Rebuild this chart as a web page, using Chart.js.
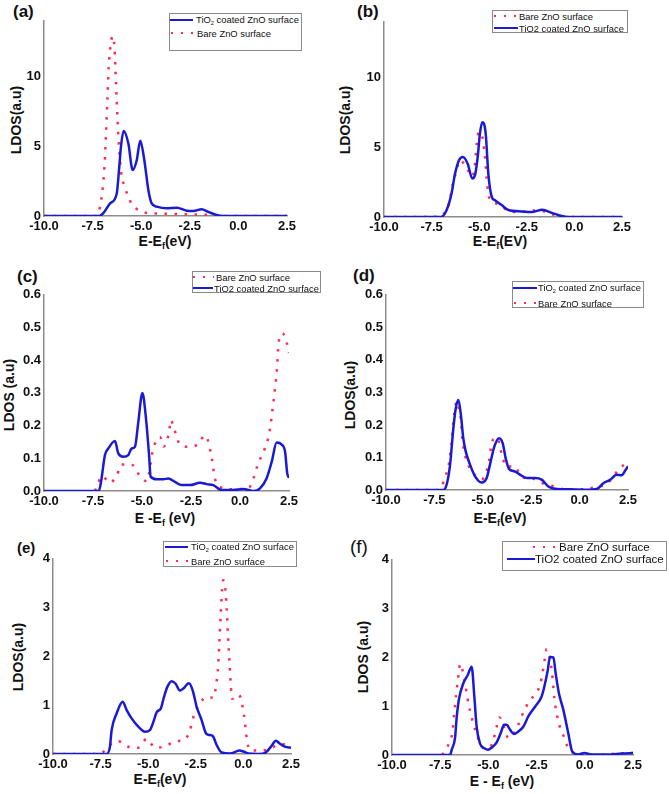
<!DOCTYPE html>
<html>
<head>
<meta charset="utf-8">
<script src="https://cdn.jsdelivr.net/npm/chart.js@4.4.1/dist/chart.umd.min.js"></script>
<style>
  body { margin: 0; width: 669px; height: 794px; position: relative; background: #fff; overflow: hidden;
         font-family: "Liberation Sans", Arial, sans-serif; color: #111; }
  .tag { position: absolute; font-weight: bold; font-size: 17px; }
  .xt, .yt { position: absolute; font-weight: bold; font-size: 14px; white-space: nowrap; }
  .xt { transform: translate(-50%, -50%); }
  .yt { transform: translate(-50%, -50%) rotate(-90deg); }
  .xt sub, .yt sub { font-size: 9px; }
  .legend { position: absolute; border: 1px solid #8a8a8a; background: #fff; box-sizing: border-box; }
  .sample { position: absolute; height: 2.5px; }
  .sample.line { background: #1a1ad6; }
  .sample.dots { background: repeating-linear-gradient(90deg, #ff2a55 0 2.5px, transparent 2.5px 10px); }
  .ltext { position: absolute; white-space: nowrap; transform: translateY(-50%); color: #111; }
  .ltext sub { font-size: 0.6em; }
</style>
</head>
<body>

<div class="tag" style="left:13px;top:2px">(a)</div>
<div class="tag" style="left:357px;top:2px">(b)</div>
<div class="tag" style="left:17px;top:267px">(c)</div>
<div class="tag" style="left:353px;top:266px">(d)</div>
<div class="tag" style="left:17px;top:539px;font-size:15px">(e)</div>
<div class="tag" style="left:350px;top:536px;font-weight:normal;font-size:19px">(f)</div>

<div class="xt" style="left:165px;top:242px">E-E<sub>f</sub>(eV)</div>
<div class="xt" style="left:500px;top:242px">E-E<sub>f</sub>(EV)</div>
<div class="xt" style="left:165px;top:519px">E -E<sub>f</sub> (eV)</div>
<div class="xt" style="left:500px;top:519px">E-E<sub>f</sub>(eV)</div>
<div class="xt" style="left:160px;top:780px">E-E<sub>f</sub>(eV)</div>
<div class="xt" style="left:502px;top:782px">E - E<sub>f</sub> (eV)</div>

<div class="yt" style="left:16px;top:120px">LDOS(a.u)</div>
<div class="yt" style="left:345px;top:120px">LDOS(a.u)</div>
<div class="yt" style="left:9px;top:395px">LDOS (a.u)</div>
<div class="yt" style="left:350px;top:395px">LDOS(a.u)</div>
<div class="yt" style="left:18px;top:657px">LDOS(a.u)</div>
<div class="yt" style="left:363px;top:657px">LDOS (a.u)</div>

<script>
// LDOS curves, [E - Ef (eV), LDOS (a.u)]
const aTiO2 = [[-10,0],[-7.15,0],[-6.95,0.2],[-6.6,0.9],[-6.26,1.6],[-6.13,3.5],[-6.04,5.0],[-5.9,6.1],[-5.66,5.2],[-5.44,3.3],[-5.23,4.0],[-5.05,5.4],[-4.86,4.2],[-4.63,1.85],[-4.46,0.9],[-4.2,0.67],[-3.69,0.55],[-3.17,0.6],[-2.66,0.38],[-2.32,0.36],[-1.89,0.48],[-1.55,0.3],[-1.12,0.07],[-0.78,0],[2.5,0]]
const aBare = [[-10,0],[-7.3,0],[-7.19,0.3],[-7.07,1.0],[-6.95,2.45],[-6.88,3.76],[-6.81,5.9],[-6.74,8.3],[-6.67,10.7],[-6.57,12.3],[-6.47,12.9],[-6.38,12.2],[-6.33,10.7],[-6.26,8.3],[-6.18,5.9],[-6.09,4.0],[-6.0,2.8],[-5.9,2.3],[-5.49,0.86],[-5.06,0.38],[-4.55,0.19],[-4.05,0.17],[-3.0,0.14],[-2.0,0.1],[-1.3,0.07],[-1.0,0.02],[-0.8,0],[2.5,0]]

const bBare = [[-10,0],[-7.1,0.02],[-6.71,0.55],[-6.53,1.26],[-6.45,2.0],[-6.32,2.7],[-6.18,3.4],[-6.03,4.07],[-5.71,3.67],[-5.36,2.9],[-5.22,3.83],[-5.13,5.26],[-5.05,6.0],[-4.95,6.1],[-4.87,5.98],[-4.75,4.95],[-4.69,4.24],[-4.61,2.76],[-4.48,1.4],[-4.0,0.93],[-3.47,0.45],[-2.95,0.36],[-1.9,0.48],[-1.19,0.2],[-0.67,0.02],[-0.4,0],[2.5,0]]
const bTiO2 = [[-10,0],[-7.0,0],[-6.71,0.5],[-6.45,1.7],[-6.27,3.1],[-6.06,4.07],[-5.85,4.3],[-5.6,3.8],[-5.36,2.76],[-5.22,3.0],[-5.08,4.3],[-4.96,6.0],[-4.84,6.8],[-4.66,6.0],[-4.52,3.1],[-4.34,1.45],[-4.17,1.2],[-3.82,0.86],[-3.47,0.5],[-2.77,0.4],[-2.24,0.36],[-1.68,0.52],[-1.19,0.3],[-0.67,0.07],[-0.3,0],[2.5,0]]

const cBare = [[-7.4,0],[-7.26,0.022],[-7.03,0.046],[-6.63,0.025],[-6.26,0.052],[-6.05,0.081],[-5.74,0.081],[-5.44,0.078],[-5.19,0.053],[-4.76,0.03],[-4.56,0.084],[-4.48,0.115],[-4.34,0.145],[-4.08,0.165],[-3.9,0.136],[-3.71,0.158],[-3.6,0.188],[-3.54,0.217],[-3.4,0.2],[-3.27,0.173],[-3.06,0.142],[-2.58,0.135],[-2.07,0.147],[-1.82,0.17],[-1.65,0.157],[-1.53,0.128],[-1.43,0.097],[-1.36,0.067],[-1.27,0.036],[-0.98,0.011],[-0.46,0.005],[-0.03,0.006],[0.47,0.011],[0.71,0.042],[0.85,0.071],[1.07,0.104],[1.28,0.132],[1.44,0.162],[1.53,0.19],[1.66,0.25],[1.78,0.31],[1.88,0.37],[1.95,0.435],[2.0,0.465],[2.17,0.482],[2.39,0.452],[2.5,0.422]]
const cTiO2 = [[-10,0],[-7.2,0],[-7.09,0.028],[-6.89,0.11],[-6.72,0.13],[-6.38,0.153],[-6.21,0.115],[-5.95,0.105],[-5.7,0.11],[-5.53,0.13],[-5.36,0.135],[-5.19,0.21],[-4.98,0.30],[-4.81,0.23],[-4.64,0.11],[-4.56,0.044],[-4.25,0.036],[-3.9,0.036],[-3.66,0.038],[-3.32,0.028],[-2.98,0.018],[-2.55,0.018],[-2.04,0.025],[-1.7,0.021],[-1.36,0.018],[-0.94,0.003],[-0.35,0.003],[0.17,0.006],[0.68,0],[1.02,0.008],[1.36,0.039],[1.62,0.09],[1.87,0.148],[2.13,0.142],[2.3,0.12],[2.41,0.054],[2.5,0.04]]

const dTiO2 = [[-10,0],[-7.04,0],[-6.87,0.016],[-6.69,0.078],[-6.52,0.19],[-6.4,0.25],[-6.26,0.277],[-6.13,0.23],[-6.01,0.16],[-5.88,0.118],[-5.66,0.078],[-5.4,0.042],[-5.06,0.023],[-4.8,0.037],[-4.63,0.078],[-4.4,0.134],[-4.16,0.159],[-3.97,0.143],[-3.82,0.098],[-3.65,0.065],[-3.34,0.057],[-3.08,0.047],[-2.73,0.037],[-2.3,0.037],[-1.96,0.032],[-1.62,0.011],[-1.18,0.003],[-0.57,0.002],[0.45,0.001],[0.88,0.003],[1.23,0.021],[1.57,0.031],[1.92,0.047],[2.17,0.045],[2.38,0.062],[2.5,0.073]]
const dBare = [[-10,0],[-7.3,0],[-7.16,0.007],[-6.95,0.039],[-6.8,0.067],[-6.7,0.098],[-6.65,0.128],[-6.58,0.159],[-6.55,0.19],[-6.5,0.22],[-6.44,0.25],[-6.35,0.273],[-6.23,0.248],[-6.14,0.22],[-6.04,0.149],[-5.88,0.098],[-5.66,0.066],[-5.4,0.046],[-5.06,0.033],[-4.68,0.088],[-4.58,0.13],[-4.46,0.156],[-4.25,0.161],[-4.11,0.131],[-3.99,0.104],[-3.82,0.073],[-3.34,0.072],[-2.99,0.039],[-2.47,0.036],[-1.96,0.022],[-1.45,0.013],[-0.93,0.003],[0.28,0.002],[0.8,0.009],[1.32,0.016],[1.66,0.034],[2.0,0.062],[2.43,0.083]]

const eTiO2 = [[-10,0],[-7.18,0],[-7.01,0.15],[-6.92,0.49],[-6.66,0.83],[-6.34,1.07],[-6.13,0.9],[-5.87,0.73],[-5.52,0.56],[-5.17,0.455],[-4.91,0.49],[-4.7,0.69],[-4.55,0.86],[-4.34,0.93],[-4.17,1.17],[-4.0,1.37],[-3.77,1.49],[-3.56,1.44],[-3.33,1.3],[-3.16,1.34],[-2.86,1.45],[-2.66,1.3],[-2.45,0.96],[-2.19,0.69],[-1.96,0.42],[-1.79,0.39],[-1.61,0.37],[-1.4,0.18],[-1.14,0.03],[-0.7,0.01],[-0.21,0.07],[0.0,0.05],[0.27,0.01],[0.82,0],[1.17,0.03],[1.45,0.15],[1.71,0.27],[1.89,0.22],[2.18,0.15],[2.5,0.13]]
const eBare = [[-10,0],[-7.6,0],[-7.4,0.03],[-7.1,0.16],[-6.57,0.26],[-6.05,0.15],[-5.52,0.13],[-5.08,0.31],[-4.64,0.13],[-4.1,0.16],[-3.58,0.26],[-3.11,0.29],[-2.8,0.49],[-2.68,0.69],[-2.49,0.9],[-2.31,1.03],[-1.9,1.17],[-1.58,1.15],[-1.4,1.51],[-1.33,1.78],[-1.26,2.32],[-1.19,2.87],[-1.12,3.38],[-1.07,3.56],[-0.97,3.46],[-0.88,2.99],[-0.81,2.42],[-0.73,1.88],[-0.66,1.4],[-0.59,1.13],[-0.31,1.22],[-0.1,1.1],[-0.02,0.9],[0.07,0.69],[0.12,0.49],[0.19,0.29],[0.33,0.08],[0.86,0.07],[1.38,0.1],[1.91,0.2],[2.43,0.2]]

const fBare = [[-7.4,0],[-7.25,0.1],[-6.99,0.28],[-6.87,0.46],[-6.77,0.87],[-6.66,1.28],[-6.54,1.67],[-6.47,1.87],[-6.35,1.75],[-6.25,1.57],[-6.08,1.15],[-5.84,0.73],[-5.7,0.53],[-5.52,0.33],[-5.26,0.14],[-4.86,0.19],[-4.69,0.38],[-4.57,0.58],[-4.43,0.77],[-4.17,0.55],[-3.97,0.35],[-3.62,0.48],[-3.4,0.67],[-3.19,0.87],[-2.93,1.07],[-2.62,1.23],[-2.38,1.37],[-2.24,1.57],[-2.07,1.98],[-1.98,2.17],[-1.81,1.98],[-1.67,1.57],[-1.58,1.16],[-1.41,0.75],[-1.27,0.55],[-1.06,0.35],[-0.86,0.14],[-0.43,0.03],[0.71,0],[1.74,0.03],[2.5,0.04]]
const fTiO2 = [[-10,0],[-6.99,0],[-6.9,0.11],[-6.73,0.35],[-6.64,0.79],[-6.52,1.16],[-6.3,1.47],[-6.07,1.64],[-5.87,1.81],[-5.73,1.2],[-5.61,0.58],[-5.44,0.24],[-5.21,0.14],[-5.01,0.11],[-4.8,0.16],[-4.57,0.26],[-4.36,0.45],[-4.19,0.62],[-4.05,0.62],[-3.88,0.52],[-3.67,0.43],[-3.45,0.48],[-3.19,0.58],[-2.93,0.79],[-2.58,0.99],[-2.24,1.2],[-2.1,1.4],[-1.92,1.74],[-1.81,2.01],[-1.63,2.0],[-1.51,1.67],[-1.34,1.26],[-1.11,0.92],[-0.86,0.45],[-0.65,0.07],[-0.34,0.01],[-0.03,0.04],[0.35,0.01],[1.22,0.01],[1.91,0.03],[2.5,0.04]]

const xMin = -10, xMax = 2.5, xStep = 2.5

const BLUE = '#1a1ad6'
const RED = '#ff2a55'

const TIO2_SUB = 'TiO<sub>2</sub> coated ZnO surface'
const TIO2_PLAIN = 'TiO2 coated ZnO surface'
const BARE = 'Bare ZnO surface'

// plot area [left, top, right, bottom] in page pixels
const panels = [
  { area: [44, 20, 287, 216], yMax: 14, yStep: 5, yDec: 0, tio2: aTiO2, bare: aBare },
  { area: [384, 21, 622, 217], yMax: 14, yStep: 5, yDec: 0, tio2: bTiO2, bare: bBare },
  { area: [44, 294, 289, 491], yMax: 0.6, yStep: 0.1, yDec: 1, tio2: cTiO2, bare: cBare },
  { area: [386, 294, 628, 490], yMax: 0.6, yStep: 0.1, yDec: 1, tio2: dTiO2, bare: dBare },
  { area: [53, 558, 291, 754], yMax: 4, yStep: 1, yDec: 0, tio2: eTiO2, bare: eBare },
  { area: [392, 559, 633, 755], yMax: 4, yStep: 1, yDec: 0, tio2: fTiO2, bare: fBare },
]

// legend boxes: [left, top, right, bottom], font size, rows [kind, centre y, sample x0, sample x1, text x, label]
const legends = [
  { box: [169, 13, 302, 51], size: 9.4, rows: [['line', 20, 170, 193, 196, TIO2_SUB], ['dots', 33, 171, 194, 197, BARE]] },
  { box: [492, 10, 628, 33], size: 9.4, rows: [['dots', 16, 494, 516, 519, BARE], ['line', 28, 494, 518, 519, TIO2_PLAIN]] },
  { box: [192, 271, 321, 293], size: 9.4, rows: [['dots', 277, 193, 214, 216, BARE], ['line', 288, 193, 213, 214, TIO2_PLAIN]] },
  { box: [512, 281, 644, 308], size: 9.4, rows: [['line', 288, 513, 537, 538, TIO2_SUB], ['dots', 303, 514, 536, 538, BARE]] },
  { box: [163, 541, 297, 567], size: 9.4, rows: [['line', 547, 165, 188, 191, TIO2_SUB], ['dots', 561, 166, 188, 191, BARE]] },
  { box: [502, 541, 667, 571], size: 11.5, rows: [['dots', 547, 533, 556, 559, BARE], ['line', 559, 507, 535, 535, TIO2_PLAIN]] },
]

function makeLegend(lg) {
  const [l, t, r, b] = lg.box
  const box = document.createElement('div')
  box.className = 'legend'
  box.style.cssText = `left:${l}px;top:${t}px;width:${r - l}px;height:${b - t}px`
  document.body.appendChild(box)
  for (const [kind, y, x0, x1, tx, label] of lg.rows) {
    const s = document.createElement('div')
    s.className = 'sample ' + kind
    s.style.cssText = `left:${x0}px;top:${y - 1.25}px;width:${x1 - x0}px`
    document.body.appendChild(s)
    const txt = document.createElement('div')
    txt.className = 'ltext'
    txt.style.cssText = `left:${tx}px;top:${y}px;font-size:${lg.size}px`
    txt.innerHTML = label
    document.body.appendChild(txt)
  }
}

const tickFont = { family: '"Liberation Sans", Arial, sans-serif', size: 13, weight: 'bold' }
const toXY = pts => pts.map(([x, y]) => ({ x, y }))

function makePanel(p) {
  const YW = 40, XH = 20, PL = 2, PT = 10, PR = 18, PB = 2
  const [l, t, r, b] = p.area
  const w = r - l + YW + PL + PR
  const h = b - t + XH + PT + PB
  const canvas = document.createElement('canvas')
  canvas.width = w
  canvas.height = h
  canvas.style.cssText = `position:absolute;left:${l - YW - PL}px;top:${t - PT}px;width:${w}px;height:${h}px`
  document.body.appendChild(canvas)

  new Chart(canvas.getContext('2d'), {
    type: 'line',
    data: {
      datasets: [
        {
          label: 'TiO2 coated ZnO surface',
          data: toXY(p.tio2),
          borderColor: BLUE,
          borderWidth: 2.5,
          pointRadius: 0,
          cubicInterpolationMode: 'monotone',
        },
        {
          label: 'Bare ZnO surface',
          data: toXY(p.bare),
          borderColor: RED,
          borderWidth: 2.5,
          borderDash: [2.5, 7.5],
          borderCapStyle: 'butt',
          pointRadius: 0,
          cubicInterpolationMode: 'monotone',
        },
      ],
    },
    options: {
      responsive: false,
      devicePixelRatio: 1,
      animation: false,
      layout: { padding: { left: PL, top: PT, right: PR, bottom: PB } },
      plugins: { legend: { display: false }, tooltip: { enabled: false } },
      scales: {
        x: {
          type: 'linear',
          min: xMin,
          max: xMax,
          afterFit: s => { s.height = XH },
          grid: { display: false, drawTicks: false },
          border: { display: true, color: '#8c8c8c', width: 1.5 },
          ticks: {
            stepSize: xStep,
            padding: 3,
            maxRotation: 0,
            color: '#111',
            font: tickFont,
            callback: v => v.toFixed(1),
          },
        },
        y: {
          type: 'linear',
          min: 0,
          max: p.yMax,
          afterFit: s => { s.width = YW },
          grid: { display: false, drawTicks: false },
          border: { display: true, color: '#8c8c8c', width: 1.5 },
          ticks: {
            stepSize: p.yStep,
            includeBounds: false,
            padding: 3,
            color: '#111',
            font: tickFont,
            callback: v => v.toFixed(p.yDec),
          },
        },
      },
    },
  })
}

panels.forEach(makePanel)
legends.forEach(makeLegend)
</script>
</body>
</html>
